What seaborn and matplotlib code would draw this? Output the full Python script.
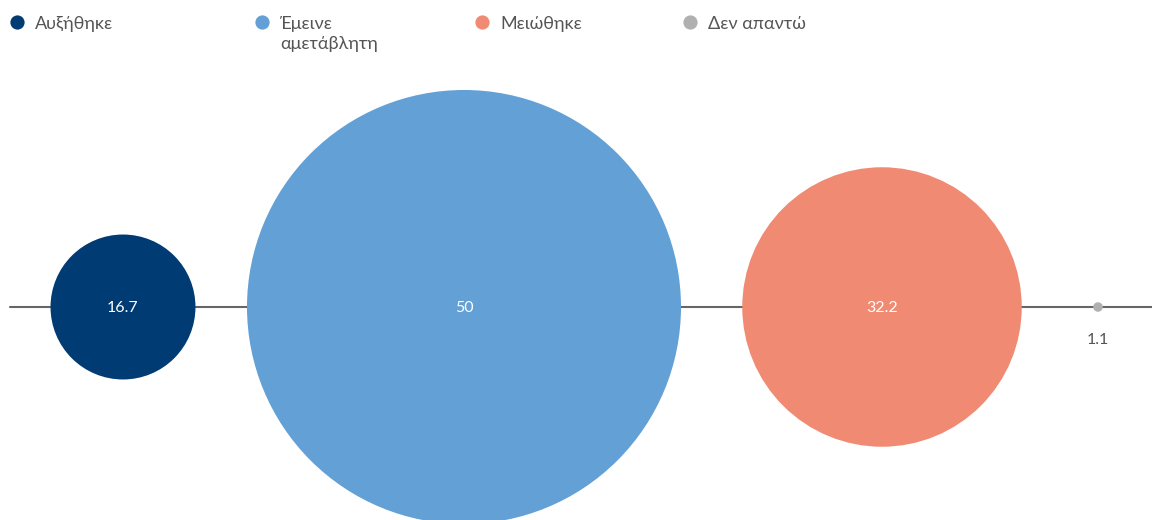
import pandas as pd
import matplotlib
matplotlib.use('Agg')
import matplotlib.pyplot as plt
import seaborn as sns

# data
categories = ['Αυξήθηκε', 'Έμεινε\nαμετάβλητη', 'Μειώθηκε', 'Δεν απαντώ']
values = [16.7, 50, 32.2, 1.1]
colors = ['#003c73', '#62a0d6', '#f08a73', '#b0b0b0']

# layout (pixel positions)
x_pos = [123, 464, 882, 1098]
legend_x = [17, 262, 482, 690]
line_y = 307
px_per_unit = 217 / 50  # radius in px per value unit
dpi = 100

sns.set_theme(style='white')
plt.rcParams['font.family'] = ['Lato', 'DejaVu Sans']

df = pd.DataFrame({'cat': categories, 'value': values, 'x': x_pos, 'y': line_y})
# marker area in points^2 so that radius is proportional to value
sizes = {c: (2 * v * px_per_unit * 72 / dpi) ** 2 for c, v in zip(categories, values)}
palette = dict(zip(categories, colors))

fig = plt.figure(figsize=(11.52, 5.2), dpi=dpi)
ax = fig.add_axes([0, 0, 1, 1])
ax.set_xlim(0, 1152)
ax.set_ylim(520, 0)
ax.axis('off')

ax.plot([10, 1152], [line_y, line_y], color='#666666', lw=1.5, zorder=1)

sns.scatterplot(data=df, x='x', y='y', hue='cat', size='cat', sizes=sizes,
                palette=palette, linewidth=0, legend=False, ax=ax, zorder=2)

for x, v, c in zip(x_pos, values, categories):
    label = f'{v:g}'
    if v * px_per_unit > 20:
        ax.text(x, line_y + 1, label, color='white', fontsize=11.5, ha='center', va='center', zorder=3)
    else:
        ax.text(x, line_y + 33, label, color='#555555', fontsize=11.5, ha='center', va='center', zorder=3)

# legend
for lx, c, col in zip(legend_x, categories, colors):
    ax.scatter([lx], [22], s=105, color=col, linewidth=0)
    ax.text(lx + 18, 29, c.split('\n')[0], color='#555555', fontsize=13, ha='left', va='baseline')
    if '\n' in c:
        ax.text(lx + 18, 49, c.split('\n')[1], color='#555555', fontsize=13, ha='left', va='baseline')

fig.savefig('out.png', dpi=dpi)
